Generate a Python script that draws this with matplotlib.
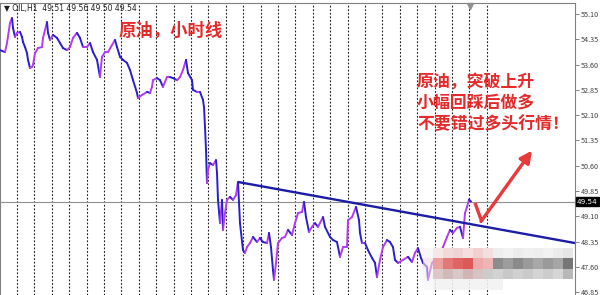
import numpy as np
import matplotlib
matplotlib.use("Agg")
import matplotlib.pyplot as plt
from matplotlib.collections import LineCollection

plt.rcParams['font.family'] = ['Noto Sans CJK SC', 'DejaVu Sans']

# ---- data ----
bars = [0,5,7,10,12,13,15,17,20,22,23,25,27,28,30,32,33,35,38,42,43,47,48,50,53,57,60,63,67,70,
        73,77,80,83,87,90,93,97,100,102,105,108,112,115,117,120,123,127,130,133,137,138,142,147,150,
        152,153,157,160,163,167,170,173,177,180,183,186,188,192,193,197,200,203,204,205,206,207,208,
        210,213,216,217,218,220,222,223,225,227,230,233,236,238,240,243,245,247,250,253,257,260,263,
        267,269,271,273,274,276,278,282,285,288,292,295,298,302,304,306,309,312,315,318,323,325,330,
        333,337,340,343,347,348,352,356,359,360,362,365,368,372,375,377,380,383,387,390,393,395,398,
        403,408,412,415,418,421,423,427,428,432,437,443,447,450,453,457,460,463,465,467,469,471]
prices = [54.03,53.97,54.24,54.83,54.98,54.69,54.42,54.54,54.57,54.42,54.27,54.12,53.94,53.74,53.50,
          53.53,53.59,53.94,54.09,54.12,54.39,54.86,54.54,54.33,54.48,54.39,54.24,54.09,54.03,54.12,
          54.39,54.54,54.39,54.12,54.12,54.24,53.97,53.74,53.23,53.83,53.97,53.97,54.18,54.33,54.12,
          53.83,53.74,53.65,53.44,53.14,52.76,52.61,52.70,52.79,52.76,52.94,53.14,53.20,53.14,52.94,
          53.23,53.23,53.20,53.14,53.23,53.44,53.74,53.35,53.14,52.85,52.79,52.79,52.55,52.34,51.75,
          51.07,50.09,50.48,50.68,50.62,50.77,50.39,49.59,48.90,49.59,48.70,49.20,49.59,49.68,49.59,
          49.73,50.12,48.90,48.10,48.02,48.19,48.31,48.49,48.34,48.46,48.34,48.31,48.61,48.19,47.51,
          47.22,47.72,48.31,48.46,48.49,48.70,48.55,48.90,49.20,49.23,49.53,49.08,48.64,48.79,48.90,
          48.79,49.08,48.79,48.49,48.40,48.34,47.90,48.19,48.19,48.99,49.08,49.38,48.99,48.61,48.31,
          48.31,48.10,47.87,47.72,47.30,47.81,48.19,48.40,48.34,48.19,47.81,47.72,47.81,47.90,47.75,
          48.02,48.16,47.87,47.72,47.60,47.22,47.72,47.90,48.19,48.49,48.70,48.61,48.76,48.79,48.46,
          49.20,49.38,49.60,49.54]

separators = [17,34,52,69,87,104,121,139,156,174,191,208,226,243,261,278,295,313,330,348,365,
              382,400,417,435,452,469,487]
trend_x = [238, 575]
trend_y = [50.12, 48.31]
last_price = 49.54
yticks = [55.10,54.35,53.60,52.85,52.10,51.35,50.60,49.85,49.10,48.35,47.60,46.85]
header = "\u25BC OIL,H1  49.51 49.56 49.50 49.54"
title_txt = "原油，小时线"
note_lines = ["原油，突破上升", "小幅回踩后做多", "不要错过多头行情！"]

# ---- figure ----
W, H = 600, 295
fig = plt.figure(figsize=(6, 2.95), dpi=100)
ax = fig.add_axes([0, 0, 575/W, 292/H])
ax.set_xlim(0, 575)
ax.set_ylim(46.77, 55.426)

for s in separators:
    ax.axvline(s, color='#202020', lw=0.8, ls=(0, (1.6, 1.6)), zorder=1)

ax.axhline(last_price, color='#909090', lw=0.8, zorder=2)

# price line coloured by direction
x = np.array(bars, float)
y = np.array(prices, float)
segs = np.stack([np.column_stack([x[:-1], y[:-1]]), np.column_stack([x[1:], y[1:]])], axis=1)
cols = ['#b43cf0' if y[i+1] >= y[i] else '#2a1ed2' for i in range(len(y)-1)]
lc = LineCollection(segs, colors=cols, linewidths=1.4, zorder=3, capstyle='round', joinstyle='round')
ax.add_collection(lc)

ax.plot(trend_x, trend_y, color='#1c1ca6', lw=1.7, zorder=4, solid_capstyle='butt')

# mosaic (blurred watermark)
def c(h, a=1.0):
    h = h.lstrip('#')
    return [int(h[0:2], 16)/255, int(h[2:4], 16)/255, int(h[4:6], 16)/255, a]
row0 = [c('#f4eefa', .5)] + [c(h) for h in ['#f6e6e6','#f2dada','#f0d4d4','#f6dede','#f2d0d0','#f2e0e0',
        '#eeeeee','#f2f2f2','#ececec','#f0f0f0','#eeeeee','#f2f2f2','#ececec','#e6e6e6']]
row1 = [c('#f2dcdc', .6)] + [c(h) for h in ['#eba0a0','#e47878','#e06464','#de5858','#ecaaaa','#efb4b4',
        '#8c8c8c','#9c9c9c','#8a8a8a','#9a9a9a','#a8a8a8','#9a9a9a','#a6a6a6','#767676']]
row2 = [c('#eeeeee', .5)] + [c(h) for h in ['#dcc8c8','#d2baba','#dac8c8','#d2b4b4','#d6c4c4','#cccccc',
        '#d2d2d2','#c8c8c8','#d0d0d0','#cacaca','#d4d4d4','#cccccc','#d6d6d6','#b8b8b8']]
row3 = [c('#f4f4f4', .5)] + [c('#f2f2f2', .9)]*7 + [c('#ffffff', 0)]*7
mosaic = np.array([row0, row1, row2, row3])
ax.imshow(mosaic, extent=(423, 573, 46.92, 48.16), aspect='auto', interpolation='nearest', zorder=5)

# red arrow
ax.plot([475, 482], [49.50, 48.93], color='#e83a3a', lw=2.4, zorder=6, solid_capstyle='butt')
ax.annotate('', xy=(532, 51.05), xytext=(481, 48.95),
            arrowprops=dict(arrowstyle='-|>,head_length=0.7,head_width=0.35', color='#e83a3a',
                            lw=2.4, shrinkA=0, shrinkB=0), zorder=6)

# axis styling
ax.yaxis.tick_right()
ax.set_yticks(yticks)
ax.set_yticklabels([f"{v:.2f}" for v in yticks])
ax.tick_params(axis='y', direction='out', length=3, width=0.6, color='#707070',
               labelsize=5.2, labelcolor='#404040', pad=1.5)
ax.set_xticks([])
for side in ['right', 'top', 'left']:
    ax.spines[side].set_color('#808080')
    ax.spines[side].set_linewidth(0.8)
ax.spines['bottom'].set_visible(False)

# current price label
ax.text(577, last_price, f"{last_price:.2f}", transform=ax.transData, fontsize=5.2, color='white',
        va='center', ha='left', clip_on=False, family=['DejaVu Sans'],
        bbox=dict(boxstyle='square,pad=0.15', fc='black', ec='black'))

# shift marker
ax.plot([470], [55.35], marker='v', color='#909090', ms=4, zorder=6, clip_on=False)

# texts
fig.text(4/W, 1 - 9/H, header, fontsize=5.5, color='#202020', va='center', ha='left',
         family=['DejaVu Sans'])
fig.text(119/W, 1 - 31/H, title_txt, fontsize=12.5, color='#e42a2a', va='center', ha='left',
         fontweight='bold')
for i, line in enumerate(note_lines):
    fig.text(417/W, 1 - (82 + 21*i)/H, line, fontsize=12.2, color='#e42a2a', va='center',
             ha='left', fontweight='bold')

fig.savefig('out.png', dpi=100)
